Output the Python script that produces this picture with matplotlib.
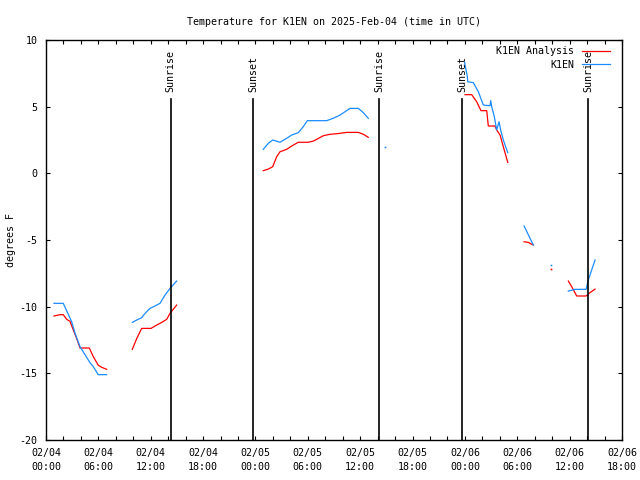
import numpy as np
import matplotlib
matplotlib.use("Agg")
import matplotlib.pyplot as plt
from matplotlib.ticker import FixedLocator

# hours since 2025-02-04 00:00 UTC; None marks a gap in the record
obs_t = [0.92, 1.98, 2.94, 3.32, 3.90, 4.47, 5.04, 5.42, 5.99, 6.95, None,
         9.89, 10.40, 10.96, 11.35, 11.91, 12.49, 13.06, 13.64, 14.21, 14.97, None,
         24.90, 25.47, 25.98, 26.82, 27.58, 28.15, 28.91, 29.48, 29.94, 32.16, 32.92,
         33.69, 34.26, 34.83, 35.79, 36.36, 36.93, None,
         47.95, 48.28, 48.32, 48.97, 49.54, 50.11, 50.88, 50.96, 51.07, 51.37, 51.64,
         51.91, 52.10, 52.40, 52.91, None,
         54.78, 55.84, None,
         59.85, 60.62, 61.88, 62.14, 62.91]
obs_v = [-9.75, -9.75, -11.13, -11.98, -13.0, -13.6, -14.2, -14.5, -15.1, -15.1, None,
         -11.18, -11.0, -10.83, -10.5, -10.13, -9.95, -9.75, -9.13, -8.63, -8.08, None,
         1.8, 2.25, 2.5, 2.33, 2.63, 2.87, 3.05, 3.5, 3.95, 3.95, 4.13,
         4.37, 4.62, 4.87, 4.87, 4.55, 4.13, None,
         8.35, 7.25, 6.87, 6.8, 6.12, 5.12, 5.07, 5.45, 5.0, 4.25, 3.25,
         3.87, 3.25, 2.5, 1.55, None,
         -3.95, -5.38, None,
         -8.83, -8.7, -8.7, -8.0, -6.5]
obs_single_t = [38.88, 57.87]
obs_single_v = [1.95, -6.88]

ana_t = [0.92, 1.61, 1.98, 2.37, 2.75, 3.13, 3.52, 3.90, 4.96, 5.42, 5.99, 6.39, 6.95, None,
         9.89, 10.40, 10.96, 12.03, 12.68, 13.26, 13.83, 14.21, 14.97, None,
         24.90, 25.47, 25.98, 26.43, 26.82, 27.58, 28.15, 28.91, 30.06, 30.63, 31.02,
         31.78, 32.55, 33.31, 34.46, 35.79, 36.36, 36.93, None,
         48.02, 48.78, 49.35, 49.84, 50.50, 50.68, 51.45, 51.64, 52.03, 52.40, 52.91, None,
         54.78, 55.27, 55.84, None,
         59.85, 60.24, 60.81, 61.88, 62.33, 62.91]
ana_v = [-10.7, -10.6, -10.6, -10.95, -11.1, -11.75, -12.4, -13.1, -13.1, -13.75, -14.4, -14.55, -14.7, None,
         -13.2, -12.38, -11.63, -11.63, -11.38, -11.18, -10.95, -10.5, -9.88, None,
         0.2, 0.32, 0.5, 1.25, 1.62, 1.8, 2.05, 2.33, 2.33, 2.42, 2.55,
         2.82, 2.93, 2.97, 3.07, 3.07, 2.93, 2.7, None,
         5.9, 5.9, 5.37, 4.7, 4.7, 3.55, 3.55, 3.25, 2.87, 2.0, 0.82, None,
         -5.13, -5.18, -5.38, None,
         -8.08, -8.5, -9.2, -9.2, -8.95, -8.68]
ana_single_t = [57.87]
ana_single_v = [-7.2]

sun_events = ["Sunrise", "Sunset", "Sunrise", "Sunset", "Sunrise"]
sun_times = [14.27, 23.75, 38.16, 47.67, 62.11]

tick_hours = [0, 6, 12, 18, 24, 30, 36, 42, 48, 54, 60, 66]
tick_labels = ["02/04\n00:00", "02/04\n06:00", "02/04\n12:00", "02/04\n18:00",
               "02/05\n00:00", "02/05\n06:00", "02/05\n12:00", "02/05\n18:00",
               "02/06\n00:00", "02/06\n06:00", "02/06\n12:00", "02/06\n18:00"]
y_ticks = [-20, -15, -10, -5, 0, 5, 10]

RED = "#ff0000"
BLUE = "#1a8cff"
FONT = "DejaVu Sans Mono"
FS = 7.2

plt.rcParams["font.family"] = FONT
fig = plt.figure(figsize=(6.4, 4.8), dpi=100)
ax = fig.add_axes([46/640, 1-440/480, 576/640, 400/480])

def arr(v):
    return np.array([np.nan if x is None else x for x in v], dtype=float)

ax.plot(arr(ana_t), arr(ana_v), color=RED, lw=0.9, label="K1EN Analysis")
ax.plot(arr(obs_t), arr(obs_v), color=BLUE, lw=0.9, label="K1EN")
ax.plot(ana_single_t, ana_single_v, ls="none", marker="s", ms=1.2, mew=0, color=RED)
ax.plot(obs_single_t, obs_single_v, ls="none", marker="s", ms=1.2, mew=0, color=BLUE)

for name, t in zip(sun_events, sun_times):
    ax.plot([t, t], [-20, 5.55], color="black", lw=1.2)
    ax.text(t, 6.1, name, rotation=90, ha="center", va="bottom", fontsize=FS)

ax.set_xlim(0, 66)
ax.set_ylim(-20, 10)
ax.xaxis.set_major_locator(FixedLocator(tick_hours))
ax.set_xticklabels(tick_labels, linespacing=1.45)
ax.xaxis.set_minor_locator(FixedLocator(np.arange(0, 67, 2)))
ax.set_yticks(y_ticks)
ax.set_yticklabels([str(v) for v in y_ticks])
ax.tick_params(which="both", direction="in", top=True, right=True, length=3,
               width=0.8, labelsize=FS)
ax.tick_params(axis="x", pad=6)
ax.tick_params(axis="y", pad=6)
for s in ax.spines.values():
    s.set_linewidth(1.0)

ax.set_title("Temperature for K1EN on 2025-Feb-04 (time in UTC)", fontsize=FS, pad=11)
ax.set_ylabel("degrees F", fontsize=FS, labelpad=3)

ax.legend(loc="upper right", bbox_to_anchor=(617/640, 1-39/480),
          bbox_transform=fig.transFigure, frameon=False,
          markerfirst=False, fontsize=FS, handlelength=2.8, handletextpad=0.8,
          labelspacing=0.35, borderpad=0.2)

fig.savefig("out.png", dpi=100)
